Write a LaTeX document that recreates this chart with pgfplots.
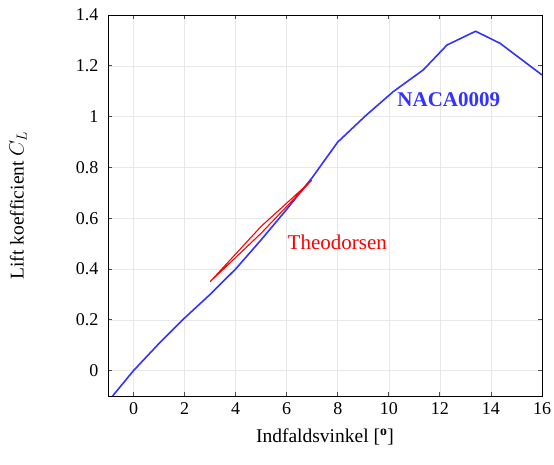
\documentclass[border=0pt]{standalone}
\usepackage{fontspec}
\setmainfont{Liberation Serif}
\usepackage{pgfplots}
\pgfplotsset{compat=1.18}

\begin{document}
\begin{tikzpicture}
\begin{axis}[
  name=ax,
  scale only axis, width=434pt, height=381pt,
  xmin=-1, xmax=16, ymin=-0.1, ymax=1.4,
  xtick={0,2,...,16}, ytick={0,0.2,...,1.4},
  tick align=inside, major tick length=4pt,
  grid=major, grid style={gray!18, line width=0.6pt},
  axis line style={black, line width=0.8pt},
  tick style={black!70, line width=0.8pt},
  /pgf/number format/assume math mode=true,
  tick label style={font=\fontsize{18}{18}\selectfont},
  xticklabel style={yshift=-3pt},
  yticklabel style={xshift=-6pt},
  label style={font=\fontsize{19.5}{19.5}\selectfont},
  xlabel={Indfaldsvinkel [\textsuperscript{\textbf{o}}]},
  ylabel={Lift koefficient $C_L$},
  xlabel style={at={(axis description cs:0.5,-0.1076)}, anchor=center},
  ylabel style={at={(axis description cs:-0.2074,0.5)}, anchor=center},
]
\addplot[blue!80!white, line width=1.6pt] coordinates {
  (-0.82,-0.1) (0,0.0) (1.02,0.109) (2,0.207) (3,0.30) (4,0.40)
  (5,0.515) (6,0.635) (7,0.76) (8,0.90) (9.13,1.007) (10.17,1.098)
  (11.35,1.184) (12.28,1.282) (13.4,1.336) (14.35,1.289) (16,1.164)};
\addplot[red, line width=1.1pt, line join=round] coordinates {
  (3.0,0.350) (5,0.568) (6.97,0.748) (5,0.541) (3.0,0.350)};
\node[blue!80!white, font=\fontsize{21}{21}\selectfont\bfseries] at (axis cs:12.35,1.066) {NACA0009};
\node[red, font=\fontsize{21}{21}\selectfont] at (axis cs:7.98,0.507) {Theodorsen};
\end{axis}
\pgfresetboundingbox
\path ([xshift=-108pt,yshift=-68pt]ax.south west) rectangle ([xshift=12pt,yshift=15pt]ax.north east);
\end{tikzpicture}
\end{document}
